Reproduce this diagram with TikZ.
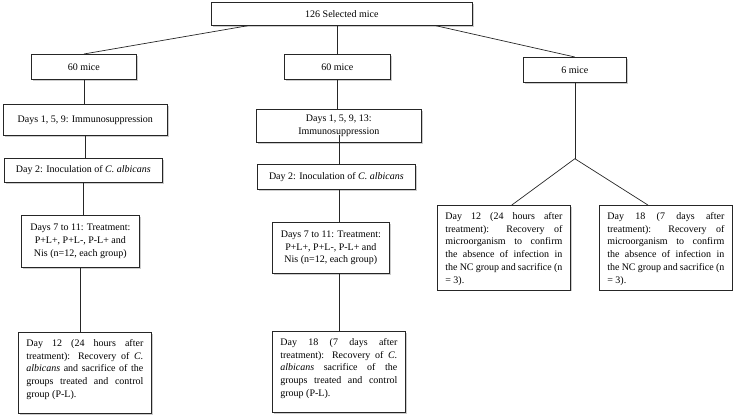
\documentclass[tikz,border=0pt]{standalone}
\usepackage{fontspec}
\setmainfont{Liberation Serif}
\usetikzlibrary{shadows}
% one justified line of a note box
\newcommand{\jl}[1]{\makebox[117pt][s]{\spaceskip=0pt\xspaceskip=0pt #1}\\}
% extra room under the last line
\newcommand{\padb}{\rule[-9pt]{0pt}{9pt}}

\begin{document}
\begin{tikzpicture}[x=1pt, y=-1pt,
    box/.style={draw=black!85, fill=white, line width=0.7pt, anchor=north west,
      font=\fontsize{10}{12.75}\selectfont, inner sep=2pt,
      drop shadow={shadow xshift=1.2pt, shadow yshift=-1.2pt, fill=black!40}},
    note/.style={box, text width=117pt, inner xsep=8pt, inner ysep=7pt, align=justify},
    link/.style={draw=black!85, line width=0.7pt}]
  \useasboundingbox (0,0) rectangle (733,416);
  % top and the three groups
  \node[box, minimum width=261pt, minimum height=23pt] (all) at (211,2) {126 Selected mice};
  \node[box, minimum width=105pt, minimum height=25pt] (grpA) at (31,54) {60 mice};
  \node[box, minimum width=106pt, minimum height=25pt] (grpB) at (284,54) {60 mice};
  \node[box, minimum width=103pt, minimum height=25pt] (grpC) at (523,57) {6 mice};
  % left column
  \node[box, minimum width=164pt, minimum height=31pt] (immA) at (3,104) {Days 1, 5, 9: Immunosuppression};
  \node[box, minimum width=158pt, minimum height=24pt] (inocA) at (4,158) {Day 2: Inoculation of \emph{C. albicans}};
  \node[box, align=center, minimum width=118pt, minimum height=52pt] (trtA) at (21,215)
    {Days 7 to 11: Treatment:\\P+L+, P+L-, P-L+ and\\Nis (n=12, each group)};
  \node[note] (endA) at (18,332)
    {\jl{Day 12 (24 hours after}
     \jl{treatment): Recovery of \emph{C.}}
     \jl{\emph{albicans} and sacrifice of the}
     \jl{groups treated and control}
     group (P-L).\padb};
  % middle column
  \node[box, align=center, minimum width=165pt, minimum height=33pt] (immB) at (256,109)
    {Days 1, 5, 9, 13:\\Immunosuppression};
  \node[box, minimum width=158pt, minimum height=25pt] (inocB) at (257,164) {Day 2: Inoculation of \emph{C. albicans}};
  \node[box, align=center, minimum width=117pt, minimum height=51pt] (trtB) at (272,222)
    {Days 7 to 11: Treatment:\\P+L+, P+L-, P-L+ and\\Nis (n=12, each group)};
  \node[note] (endB) at (272,331)
    {\jl{Day 18 (7 days after}
     \jl{treatment): Recovery of \emph{C.}}
     \jl{\emph{albicans} sacrifice of the}
     \jl{groups treated and control}
     group (P-L).\padb};
  % right column
  \node[note] (dayA) at (437,205)
    {\jl{Day 12 (24 hours after}
     \jl{treatment): Recovery of}
     \jl{microorganism to confirm}
     \jl{the absence of infection in}
     \jl{the NC group and sacrifice (n}
     \smash{= 3).}};
  \node[note] (dayB) at (599,205)
    {\jl{Day 18 (7 days after}
     \jl{treatment): Recovery of}
     \jl{microorganism to confirm}
     \jl{the absence of infection in}
     \jl{the NC group and sacrifice (n}
     \smash{= 3).}};
  % connectors
  \draw[link] ([xshift=-94pt]all.south) -- (grpA.north);
  \draw[link] (grpB.north |- all.south) -- (grpB.north);
  \draw[link] ([xshift=94pt]all.south) -- (grpC.north);
  \draw[link] (grpA.south) -- (grpA.south |- immA.north);
  \draw[link] (immA.south) -- (immA.south |- inocA.north);
  \draw[link] (inocA.south) -- (inocA.south |- trtA.north);
  \draw[link] (trtA.south) -- (trtA.south |- endA.north);
  \draw[link] (grpB.south) -- (grpB.south |- immB.north);
  \coordinate (cut) at ([yshift=8pt]immB.south);
  \draw[link] (cut -| endB.north) -- (inocB.north -| endB.north);
  \draw[link] (inocB.south -| endB.north) -- (trtB.north -| endB.north);
  \draw[link] (trtB.south -| endB.north) -- (endB.north);
  \coordinate (split) at ([yshift=-76pt]grpC.south);
  \draw[link] (grpC.south) -- (split);
  \draw[link] (split) -- ([xshift=8pt]dayA.north);
  \draw[link] (split) -- ([xshift=-18pt]dayB.north);
\end{tikzpicture}
\end{document}
